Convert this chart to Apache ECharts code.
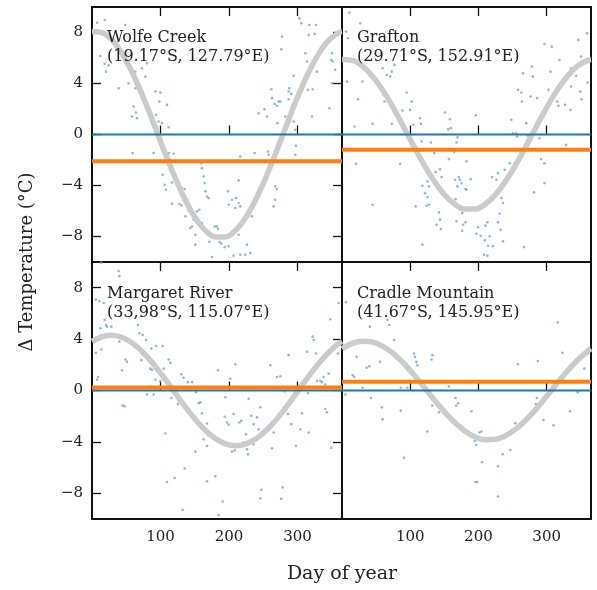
<!DOCTYPE html>
<html><head><meta charset="utf-8">
<script src="https://cdn.jsdelivr.net/npm/echarts@6/dist/echarts.min.js"></script>
<style>html,body{margin:0;padding:0;background:#fff}#c{width:597px;height:590px}</style>
</head><body><div id="c"></div>
<script>
// ---------- data ----------
const siteNames = ['Wolfe Creek', 'Grafton', 'Margaret River', 'Cradle Mountain'];
const siteCoords = ['(19.17°S, 127.79°E)', '(29.71°S, 152.91°E)', '(33,98°S, 115.07°E)', '(41.67°S, 145.95°E)'];
const xTicks = [100, 200, 300];
const yTicks = [-8, -4, 0, 4, 8];

const fitDays = [0,15,30,45,60,75,90,105,120,135,150,165,180,195,210,225,240,255,270,285,300,315,330,345,360,365];
const wolfeFit = [8.07,7.98,7.36,6.25,4.73,2.90,0.87,-1.22,-3.22,-5.01,-6.47,-7.50,-8.03,-8.03,-7.50,-6.47,-5.01,-3.22,-1.22,0.87,2.90,4.73,6.25,7.36,7.98,8.07];
const graftonFit = [5.88,5.81,5.36,4.55,3.45,2.11,0.63,-0.89,-2.35,-3.65,-4.71,-5.46,-5.85,-5.85,-5.46,-4.71,-3.65,-2.35,-0.89,0.63,2.11,3.45,4.55,5.36,5.81,5.88];
const margaretFit = [3.83,4.20,4.30,4.11,3.65,2.94,2.04,1.01,-0.09,-1.19,-2.20,-3.07,-3.74,-4.16,-4.30,-4.16,-3.74,-3.07,-2.20,-1.19,-0.09,1.01,2.04,2.94,3.65,3.83];
const cradleFit = [3.25,3.67,3.84,3.77,3.44,2.89,2.14,1.25,0.28,-0.71,-1.65,-2.48,-3.15,-3.61,-3.83,-3.80,-3.51,-2.99,-2.28,-1.41,-0.45,0.54,1.50,2.35,3.05,3.25];

const siteMeans = [-2.1, -1.2, 0.23, 0.68];

const wolfePoints = [[7.3,8.77],[18.5,8.98],[48.7,8.59],[12.2,6.16],[18.5,5.54],[24.3,5.43],[20.4,4.93],[63.3,4.93],[73.0,5.20],[77.9,4.54],[80.3,5.59],[38.9,3.63],[53.5,4.02],[63.3,3.63],[92.5,3.37],[99.8,3.29],[98.3,2.58],[109.5,2.32],[60.8,2.19],[58.4,1.41],[64.2,1.72],[65.7,1.28],[93.4,1.54],[97.3,1.02],[102.2,0.89],[94.9,0.63],[111.9,0.57],[59.4,-1.46],[90.0,-1.46],[111.9,-1.46],[119.2,-1.51],[103.2,-3.16],[106.1,-3.94],[108.0,-4.33],[116.8,-3.76],[124.1,-3.68],[131.4,-4.20],[135.3,-4.28],[116.8,-5.43],[127.5,-5.43],[130.4,-5.56],[138.7,-5.12],[136.3,-6.42],[141.1,-5.95],[146.0,-7.21],[143.6,-7.34],[150.9,-7.86],[148.4,-6.68],[153.3,-6.03],[156.7,-5.90],[160.6,-6.95],[159.6,-2.25],[160.6,-2.64],[163.0,-3.29],[165.5,-4.46],[167.9,-4.86],[170.3,-4.99],[164.5,-3.81],[150.9,-8.64],[171.3,-8.41],[175.2,-9.61],[179.1,-7.21],[182.5,-7.21],[183.9,-7.42],[186.4,-8.43],[188.8,-8.56],[193.7,-8.83],[199.5,-8.77],[198.5,-4.46],[199.5,-5.51],[204.4,-5.12],[210.2,-4.99],[214.1,-5.38],[216.5,-5.64],[214.1,-3.60],[216.5,-1.72],[209.2,-5.77],[214.1,-7.86],[206.8,-9.50],[216.5,-9.43],[223.8,-9.43],[231.1,-9.30],[226.3,-8.64],[233.6,-6.42],[237.5,-1.46],[243.3,1.67],[251.6,1.98],[255.5,1.41],[256.9,-1.33],[257.9,-1.59],[261.8,3.55],[262.8,2.85],[266.7,2.40],[270.1,2.25],[270.6,0.89],[272.5,2.58],[274.9,2.58],[265.2,-5.64],[267.6,-5.12],[270.1,-4.28],[267.6,-4.07],[277.4,7.68],[276.4,6.68],[282.2,1.41],[287.1,2.77],[287.1,3.37],[288.1,3.63],[291.0,3.19],[292.0,2.25],[292.0,1.67],[294.4,1.02],[296.8,0.37],[297.8,-0.89],[296.8,-1.59],[294.4,4.60],[302.7,9.11],[305.6,8.72],[317.3,8.59],[327.0,8.59],[325.1,7.89],[316.3,7.81],[311.4,6.37],[313.9,5.72],[316.3,4.93],[328.5,4.93],[322.1,3.55],[315.3,3.50],[321.2,1.41],[350.4,6.37],[349.4,5.85],[351.3,5.72],[350.4,4.02],[346.5,2.06],[355.2,5.07]];

const graftonPoints = [[10.7,9.56],[26.8,8.72],[5.8,8.07],[8.8,7.55],[7.3,4.15],[30.2,4.15],[23.4,2.77],[18.5,0.63],[44.8,0.84],[73.0,0.84],[20.4,-2.30],[44.8,-5.51],[59.4,5.20],[65.7,4.67],[70.6,4.54],[73.0,4.93],[76.9,5.46],[60.8,3.11],[62.3,2.58],[94.9,3.29],[102.2,2.58],[99.8,1.93],[88.6,1.88],[104.6,0.76],[114.4,1.28],[115.8,0.84],[85.2,-2.30],[116.8,-0.55],[130.4,-0.63],[135.3,-1.46],[137.2,-2.95],[143.6,-2.72],[146.0,-3.34],[125.5,-3.68],[127.5,-4.07],[117.8,-4.02],[121.7,-4.60],[125.5,-4.91],[124.1,-5.59],[127.5,-5.51],[108.0,-5.64],[117.8,-8.64],[142.1,-6.11],[143.6,-6.68],[138.7,-7.08],[145.0,-7.42],[150.9,1.72],[158.2,1.20],[159.6,0.50],[155.7,0.42],[169.3,-0.21],[167.9,-0.63],[164.5,-1.38],[156.7,-1.93],[165.5,-3.55],[171.3,-3.34],[172.7,-3.55],[169.3,-4.07],[181.0,-4.28],[182.5,-4.33],[188.8,-3.50],[175.2,-3.81],[166.4,-5.07],[175.2,-5.90],[176.2,-6.16],[167.9,-6.81],[177.6,-7.08],[181.0,-6.89],[176.2,-7.55],[182.5,-2.11],[196.1,1.51],[199.5,-7.28],[197.1,-7.78],[203.4,-7.94],[210.2,-7.15],[213.1,-6.89],[209.2,-8.30],[216.5,-7.99],[214.1,-8.72],[221.4,-8.77],[208.3,-9.43],[213.1,-9.50],[220.0,-3.34],[226.3,-3.55],[228.7,-3.03],[233.6,-4.99],[236.0,-5.38],[231.1,-6.21],[228.7,-6.89],[232.6,-7.47],[236.0,-8.38],[238.4,-2.77],[245.7,-2.25],[248.2,1.15],[253.0,-2.25],[250.6,0.10],[255.5,0.10],[256.9,-0.16],[257.9,3.50],[262.8,3.29],[263.7,2.58],[265.2,4.80],[270.1,0.89],[272.5,-0.10],[278.3,5.33],[279.8,4.54],[276.4,2.98],[286.1,2.85],[289.5,-0.29],[292.0,-1.93],[296.8,-2.25],[296.8,-3.81],[281.3,-4.54],[266.7,-8.83],[296.8,7.10],[307.5,6.89],[305.6,4.93],[302.7,3.50],[294.4,1.67],[315.3,2.58],[317.3,2.25],[327.0,2.32],[334.8,1.93],[335.8,3.76],[318.7,5.85],[335.8,5.20],[343.1,4.60],[346.5,7.42],[350.4,6.11],[351.3,2.77],[349.4,3.37],[359.1,7.94],[360.1,4.07],[328.5,-0.81]];

const margaretPoints = [[13.6,9.95],[38.9,9.29],[39.9,8.90],[5.8,7.07],[10.7,6.94],[17.0,6.81],[18.5,5.50],[20.4,5.10],[21.9,4.97],[12.2,4.84],[28.2,4.97],[39.9,3.80],[67.2,5.10],[69.1,4.45],[74.0,4.32],[78.8,3.93],[86.6,3.27],[93.4,3.46],[103.2,3.46],[13.6,3.19],[5.8,2.93],[48.7,2.41],[51.1,2.23],[43.8,1.57],[72.0,2.36],[85.2,1.70],[87.6,1.62],[104.6,1.70],[111.9,2.41],[114.4,2.15],[8.8,1.05],[7.3,0.84],[92.5,0.84],[99.8,0.73],[86.6,0.31],[80.3,-0.31],[90.0,-0.31],[44.8,-1.18],[47.7,-1.23],[115.8,-0.58],[125.5,-1.05],[107.1,-3.35],[130.4,1.26],[133.8,0.99],[140.1,0.65],[146.0,0.65],[151.8,-0.13],[155.7,-0.99],[158.2,-0.92],[160.6,-1.78],[167.9,-2.57],[170.3,-3.53],[163.0,-3.80],[167.9,-4.32],[150.9,-4.76],[120.7,-6.81],[135.3,-6.07],[109.5,-7.12],[167.9,-7.07],[180.0,-6.68],[132.4,-9.29],[190.8,-8.64],[184.9,-9.69],[183.9,1.57],[201.9,0.92],[209.2,2.04],[194.6,-0.52],[193.7,-2.04],[197.1,-2.49],[199.5,-2.67],[206.8,-1.83],[215.1,-2.49],[218.0,-2.36],[228.7,-0.65],[232.6,-1.96],[236.0,-2.62],[240.9,-2.09],[245.7,-1.31],[243.3,-3.01],[236.0,-4.19],[224.8,-3.40],[226.3,-4.58],[227.7,-4.97],[208.3,-4.66],[204.4,-4.76],[221.4,-4.06],[260.3,1.96],[265.2,-3.27],[262.8,-4.50],[247.2,-7.72],[245.7,-8.38],[276.4,-8.43],[278.3,-7.54],[270.1,1.05],[274.9,1.10],[281.3,-0.08],[287.1,2.75],[286.1,-1.83],[291.0,-2.62],[297.8,-4.32],[304.1,-3.01],[306.6,-1.78],[316.3,-3.27],[313.9,3.01],[322.1,4.19],[323.6,3.93],[327.0,2.88],[317.3,0.26],[315.3,-0.21],[328.5,0.73],[333.3,0.73],[335.8,0.65],[340.6,0.47],[338.2,1.05],[345.5,1.31],[347.9,5.55],[340.6,-1.44],[343.1,-1.70],[349.4,-4.45],[360.1,6.81],[359.1,2.88]];

const cradlePoints = [[5.8,6.86],[66.7,5.50],[69.1,5.10],[40.9,4.97],[76.4,3.93],[21.4,2.62],[36.0,1.78],[39.9,1.88],[55.5,2.23],[105.6,2.88],[107.1,2.62],[109.0,2.23],[110.5,1.96],[132.4,2.75],[131.4,2.41],[15.6,1.18],[18.0,1.05],[30.2,0.21],[86.1,0.21],[95.9,0.21],[4.9,-0.31],[42.3,-0.58],[58.4,-1.31],[59.4,-2.23],[86.1,-1.57],[91.0,-5.24],[125.1,-3.19],[132.4,-1.18],[142.1,-1.70],[156.7,0.31],[166.4,-0.58],[170.3,-0.99],[167.4,-1.18],[189.8,-1.62],[194.6,-3.93],[196.6,-4.24],[201.5,-3.27],[204.4,-3.19],[195.6,-7.12],[198.1,-7.12],[205.4,-5.58],[228.7,-5.89],[235.5,-4.97],[246.7,-4.63],[228.7,-8.25],[254.0,-2.54],[257.9,2.04],[283.2,-1.44],[284.2,-1.05],[285.6,-0.58],[287.1,2.30],[295.4,-2.30],[310.0,-2.70],[316.3,5.29],[323.1,2.93],[334.3,-1.62],[345.5,-0.13],[355.2,1.70]];

const sitePoints = [wolfePoints, graftonPoints, margaretPoints, cradlePoints];
const siteFits = [wolfeFit, graftonFit, margaretFit, cradleFit];

// ---------- chart ----------
const FONT = '"DejaVu Serif", serif';
const grids = [
  {left: 92, top: 7, width: 250, height: 255},
  {left: 342, top: 7, width: 249, height: 255},
  {left: 92, top: 262, width: 250, height: 257},
  {left: 342, top: 262, width: 249, height: 257}
];
const fmtY = v => (v < 0 ? '\u2212' + (-v) : String(v));

const xAxes = [], yAxes = [], series = [], graphics = [];
grids.forEach((g, i) => {
  const isLeft = i % 2 === 0, isBottom = i >= 2;
  const tick = {show: true, inside: true, length: 9, lineStyle: {color: '#111', width: 1.3}, customValues: xTicks};
  xAxes.push({
    type: 'value', gridIndex: i, position: 'bottom', min: 0, max: 365,
    axisLine: {show: false}, splitLine: {show: false}, axisTick: tick,
    axisLabel: {show: isBottom, customValues: xTicks, color: '#222', fontFamily: FONT, fontSize: 15, margin: 11}
  });
  xAxes.push({
    type: 'value', gridIndex: i, position: 'top', min: 0, max: 365,
    axisLine: {show: false}, splitLine: {show: false}, axisTick: tick,
    axisLabel: {show: false}
  });
  yAxes.push({
    type: 'value', gridIndex: i, position: isLeft ? 'left' : 'right', min: -10, max: 10,
    axisLine: {show: false}, splitLine: {show: false},
    axisTick: {show: true, inside: true, length: 9, lineStyle: {color: '#111', width: 1.3}, customValues: yTicks},
    axisLabel: {show: isLeft, customValues: yTicks, formatter: fmtY, color: '#222', fontFamily: FONT, fontSize: 15, margin: 9}
  });
  series.push({
    type: 'scatter', xAxisIndex: 2 * i, yAxisIndex: i, data: sitePoints[i],
    symbolSize: 2.6, itemStyle: {color: '#6f9fcf', opacity: 0.75}, silent: true, z: 2
  });
  series.push({
    type: 'line', xAxisIndex: 2 * i, yAxisIndex: i,
    data: fitDays.map((d, k) => [d, siteFits[i][k]]),
    smooth: 0.4, showSymbol: false, lineStyle: {color: '#cbcbcb', width: 5.5}, silent: true, z: 3
  });
  series.push({
    type: 'line', xAxisIndex: 2 * i, yAxisIndex: i, data: [[0, 0], [365, 0]],
    showSymbol: false, lineStyle: {color: '#1f77b4', width: 2}, silent: true, z: 4
  });
  series.push({
    type: 'line', xAxisIndex: 2 * i, yAxisIndex: i, data: [[0, siteMeans[i]], [365, siteMeans[i]]],
    showSymbol: false, lineStyle: {color: '#ff7f0e', width: 4}, silent: true, z: 5
  });
  const tx = g.left + 15, ty = g.top + (isBottom ? 32 : 30.5);
  graphics.push({type: 'text', x: tx, y: ty, z: 10, style: {text: siteNames[i], fill: '#222', font: '16px ' + FONT, verticalAlign: 'middle'}});
  graphics.push({type: 'text', x: tx, y: ty + 19, z: 10, style: {text: siteCoords[i], fill: '#222', font: '16px ' + FONT, verticalAlign: 'middle'}});
});
graphics.push({type: 'text', x: 27, y: 262, rotation: Math.PI / 2, z: 10,
  style: {text: 'Δ Temperature (°C)', fill: '#222', font: '18px ' + FONT, align: 'center', verticalAlign: 'middle'}});
graphics.push({type: 'text', x: 342, y: 574, z: 10,
  style: {text: 'Day of year', fill: '#222', font: '19px ' + FONT, align: 'center', verticalAlign: 'middle'}});

const chart = echarts.init(document.getElementById('c'), null, {renderer: 'canvas'});
chart.setOption({
  backgroundColor: '#fff',
  animation: false,
  grid: grids.map(g => Object.assign({show: true, borderColor: '#111', borderWidth: 2, backgroundColor: 'transparent', containLabel: false}, g)),
  xAxis: xAxes,
  yAxis: yAxes,
  series: series,
  graphic: graphics
});
</script></body></html>
